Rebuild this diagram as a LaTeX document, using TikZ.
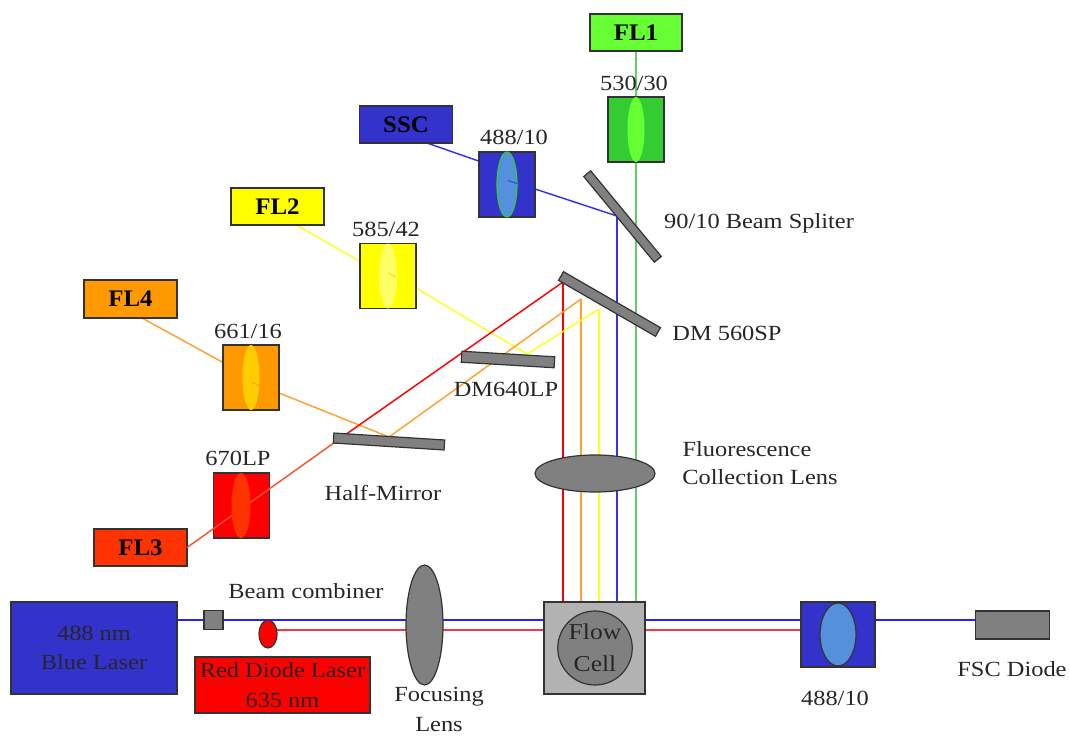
\documentclass[tikz,border=0pt]{standalone}
\usepackage{fontspec}
\setmainfont{Liberation Serif}
\newfontfamily\wideserif[FakeStretch=1.13]{Liberation Serif}
\newfontfamily\widebold[FakeStretch=1.05]{Liberation Serif Bold}
\usetikzlibrary{shapes.geometric,calc}
\pgfdeclarelayer{bg}\pgfdeclarelayer{over}\pgfdeclarelayer{top}
\pgfsetlayers{bg,main,over,top}
\definecolor{cblue}{HTML}{3333CC}
\definecolor{clens}{HTML}{5590DD}
\definecolor{cgray}{HTML}{808080}
\definecolor{cdark}{HTML}{333333}
\definecolor{cyellow}{HTML}{FFFF00}
\definecolor{cbeamgreen}{HTML}{66CC66}
\definecolor{cbeamblue}{HTML}{2222FF}
\definecolor{cbeamvert}{HTML}{3333EE}
\definecolor{cbeamred}{HTML}{FF3344}
\definecolor{cbeamorange}{HTML}{FFA030}
\definecolor{cbeamyellow}{HTML}{FFFF22}
\definecolor{clowred}{HTML}{FF5030}
\tikzset{
  x=0.75pt,y=-0.75pt,
  sz/.style 2 args={minimum width=#1*0.75pt,minimum height=#2*0.75pt},
  boxnode/.style={draw=cdark,line width=1.1pt,inner sep=0pt,outer sep=0pt,align=center,font=\wideserif\fontsize{16.2}{22}\selectfont,text=black!85},
  flbox/.style={boxnode,font=\widebold\fontsize{17.8}{20}\selectfont,text=black},
  lensnode/.style={ellipse,inner sep=0pt,outer sep=0pt},
  glens/.style={lensnode,draw=cdark,line width=0.9pt,fill=cgray},
  mirror/.style={draw=cdark,line width=0.9pt,fill=cgray,inner sep=0pt,outer sep=0pt},
  lbl/.style={inner sep=0pt,font=\wideserif\fontsize{16.2}{21}\selectfont,text=black!85,align=center},
  beam/.style={line width=1.1pt},
  vertbeam/.style={line width=1.4pt},
  mainbeam/.style={line width=1.6pt},
}
\begin{document}
\begin{tikzpicture}
\useasboundingbox (0,0) rectangle (1069,735);
% ---- boxes
\node[flbox,sz={92}{37},fill={rgb,255:red,102;green,255;blue,51}] (fl1) at (636,32.5) {FL1};
\node[boxnode,sz={56}{65},fill={rgb,255:red,51;green,204;blue,51}] (f530) at (636,129.5) {};
\node[flbox,sz={93}{37},fill=cblue] (ssc) at (406,124.5) {SSC};
\node[boxnode,sz={56}{65},fill=cblue] (f488) at (507,184.5) {};
\node[flbox,sz={93}{37},fill=cyellow] (fl2) at (277.5,206.5) {FL2};
\node[boxnode,sz={56}{65},fill=cyellow] (f585) at (388,276) {};
\node[flbox,sz={93}{38},fill={rgb,255:red,255;green,153;blue,0}] (fl4) at (130.5,299) {FL4};
\node[boxnode,sz={56}{65},fill={rgb,255:red,255;green,153;blue,0}] (f661) at (251,377.5) {};
\node[boxnode,sz={56}{65},fill=red] (f670) at (241.5,505.5) {};
\node[flbox,sz={93}{37},fill={rgb,255:red,255;green,51;blue,0}] (fl3) at (140.5,547.5) {FL3};
\node[boxnode,sz={166}{92},fill=cblue] (bluelaser) at (94,648) {488 nm\\Blue Laser};
\node[boxnode,sz={19}{19},fill=cgray] (combiner) at (213.5,620) {};
\node[boxnode,sz={175}{56},fill=red] (redlaser) at (282.5,685) {Red Diode Laser\\635 nm};
\node[boxnode,sz={101}{92},fill={rgb,255:red,178;green,178;blue,178}] (flowcell) at (594.5,648) {};
\node[boxnode,sz={74}{65},fill=cblue] (f488b) at (838,634.5) {};
\node[boxnode,sz={74}{28},fill=cgray] (fsc) at (1012.5,625) {};
% ---- lenses
\node[lensnode,sz={17}{65},fill={rgb,255:red,102;green,255;blue,51}] (l530) at (636,129.5) {};
\node[lensnode,draw={rgb,255:red,51;green,204;blue,51},line width=0.9pt,fill=clens,sz={20}{65}] (l488) at (507,184.5) {};
\node[lensnode,sz={18}{65},fill={rgb,255:red,255;green,255;blue,102}] (l585) at (388,276) {};
\node[lensnode,sz={17}{65},fill={rgb,255:red,255;green,204;blue,0}] (l661) at (251,377.5) {};
\node[glens,sz={37}{120}] (focus) at (424.5,625) {};
\node[glens,sz={120}{37}] (collect) at (595,473.5) {};
\node[glens,sz={64}{74},align=center,font=\wideserif\fontsize{17}{24}\selectfont,text=black!85] (cell) at (595,648) {Flow\\Cell};
\node[lensnode,draw=cdark,line width=0.9pt,fill=clens,sz={36}{63}] (l488b) at (838,634.5) {};
\node[lensnode,draw=cdark,line width=0.9pt,fill=red,sz={18}{28}] (redspot) at (268,634) {};
% ---- mirrors and lens/mirror on the upper layer
\node[mirror,sz={111}{9},rotate=-50.5] (split) at (622.5,216.5) {};
\node[mirror,sz={112}{10},rotate=-30] (dm560) at (609.5,304) {};
\begin{pgfonlayer}{top}
\node[mirror,sz={111}{10},rotate=-3.6] (half) at (389,441.5) {};
\node[mirror,sz={93}{11},rotate=-3.4] (dm640) at (508,359.5) {};
\node[lensnode,sz={19}{65},fill={rgb,255:red,255;green,51;blue,0}] (l670) at (241,505.5) {};
\end{pgfonlayer}
% ---- named beam points
\coordinate (sscout) at (427,143);
\coordinate (f488in) at (480,161.5);
\coordinate (f488out) at (535,189);
\coordinate (splithit) at (617,216);
\coordinate (fl2out) at (298,226);
\coordinate (f585in) at (361,262);
\coordinate (f585out) at (416,288);
\coordinate (dm640hit) at (527,354);
\coordinate (yellowhit) at (599,309);
\coordinate (fl4out) at (142,318);
\coordinate (f661in) at (224,363);
\coordinate (f661out) at (279,393);
\coordinate (halfhit) at (389,437);
\coordinate (orangehit) at (581,299);
\coordinate (redhit) at (563,282);
\coordinate (halfred) at (345,435);
\coordinate (redstart) at (277,630);
% ---- beams, behind the boxes
\begin{pgfonlayer}{bg}
\draw[mainbeam,cbeamblue] (bluelaser.east |- combiner) -- (fsc.west |- combiner);
\draw[mainbeam,cbeamred] (redstart) -- (f488b.west |- redstart);
\draw[beam,cbeamgreen] (fl1.south) -- (flowcell.north -| fl1);
\draw[vertbeam,cbeamvert] (splithit) -- (flowcell.north -| splithit);
\draw[beam,cbeamyellow] (yellowhit) -- (flowcell.north -| yellowhit);
\draw[beam,cbeamorange] (orangehit) -- (flowcell.north -| orangehit);
\draw[beam,red] (redhit) -- (flowcell.north -| redhit);
\draw[beam,cbeamvert] (sscout) -- (f488in);
\draw[beam,cbeamvert] (f488out) -- (splithit);
\draw[beam,cbeamyellow] (fl2out) -- (f585in);
\draw[beam,cbeamyellow] (f585out) -- (dm640hit) -- (yellowhit);
\draw[beam,cbeamorange] (fl4out) -- (f661in);
\draw[beam,cbeamorange] (f661out) -- (halfhit) -- (orangehit);
\draw[beam,red] (halfred) -- (redhit);
\end{pgfonlayer}
\begin{pgfonlayer}{over}
\draw[beam,clowred] (fl3.east) -- (halfred);
\end{pgfonlayer}
% ---- short stubs seen on the lenses
\draw[line width=0.7pt,cbeamvert] (l488.center) ++(1,-4) coordinate (sb1) -- ++(9,3) coordinate (sb2);
\draw[line width=0.7pt,cbeamyellow!70!orange] (l585.center) ++(0,-3) coordinate (sb3) -- ++(8,4) coordinate (sb4);
\draw[line width=0.7pt,cbeamorange] (l661.center) ++(1,5) coordinate (sb5) -- ++(7,3) coordinate (sb6);
% ---- labels
\node[lbl] (t530) at (634,83) {530/30};
\node[lbl] (t488) at (514,137) {488/10};
\node[lbl] (t585) at (386,229) {585/42};
\node[lbl] (t661) at (248,331) {661/16};
\node[lbl] (t670) at (238,458) {670LP};
\node[lbl] (tsplit) at (759,223) {90/10 Beam Spliter};
\node[lbl] (tdm560) at (727,333) {DM 560SP};
\node[lbl] (tdm640) at (506,389) {DM640LP};
\node[lbl] (thalf) at (383,493) {Half-Mirror};
\node[lbl] (tfluo) at (747,449) {Fluorescence};
\node[lbl] (tcoll) at (760,477) {Collection Lens};
\node[lbl] (tcomb) at (306,591) {Beam combiner};
\node[lbl] (tfoc) at (439,697) {Focusing};
\node[lbl] (tlens) at (439,725) {Lens};
\node[lbl] (t488b) at (835,698) {488/10};
\node[lbl] (tfsc) at (1012,669) {FSC Diode};
\end{tikzpicture}
\end{document}
